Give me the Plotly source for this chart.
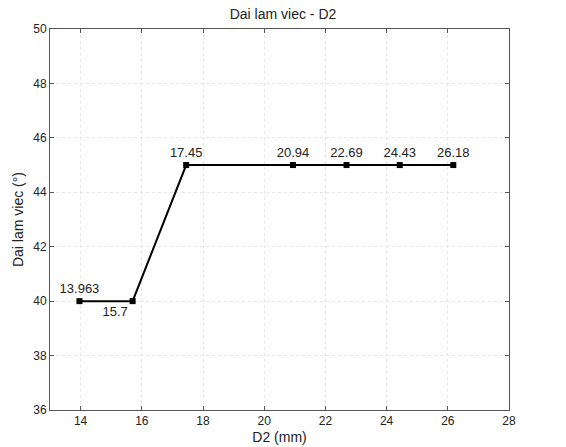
import plotly.graph_objects as go

d2 = [13.963, 15.7, 17.45, 20.94, 22.69, 24.43, 26.18]
dai = [40, 40, 45, 45, 45, 45, 45]
labels = ["13.963", "15.7", "17.45", "20.94", "22.69", "24.43", "26.18"]
positions = ["top center", "bottom left", "top center", "top center", "top center", "top center", "top center"]

FONT = "Arial, Liberation Sans, sans-serif"

fig = go.Figure()
fig.add_trace(go.Scatter(
    x=d2, y=dai, mode="lines+markers+text",
    line=dict(color="black", width=2),
    marker=dict(symbol="square", size=6, color="black"),
    text=labels, textposition=positions,
    textfont=dict(family=FONT, size=13, color="#222"),
    showlegend=False, cliponaxis=False,
))

axis_common = dict(
    showline=True, linecolor="#555", linewidth=1, mirror="ticks",
    ticks="inside", ticklen=4, tickcolor="#555",
    showgrid=True, gridcolor="#e6e6e6", griddash="dot", gridwidth=1,
    zeroline=False, automargin=False,
    tickfont=dict(family=FONT, size=12, color="#222"),
)

fig.update_layout(
    width=566, height=447,
    margin=dict(l=50, r=57, t=29, b=37),
    paper_bgcolor="white", plot_bgcolor="white",
    title=dict(text="Dai lam viec - D2", x=0.5, xanchor="center", y=0.968, yanchor="middle",
               font=dict(family=FONT, size=14, color="#222")),
    xaxis=dict(range=[13, 28], dtick=2, tick0=14,
               title=dict(text="D2 (mm)", standoff=4,
                          font=dict(family=FONT, size=14, color="#222")),
               **axis_common),
    yaxis=dict(range=[36, 50], dtick=2,
               title=dict(text="Dai lam viec (°)", standoff=6,
                          font=dict(family=FONT, size=14, color="#222")),
               **axis_common),
)

fig.write_html("out.html")
